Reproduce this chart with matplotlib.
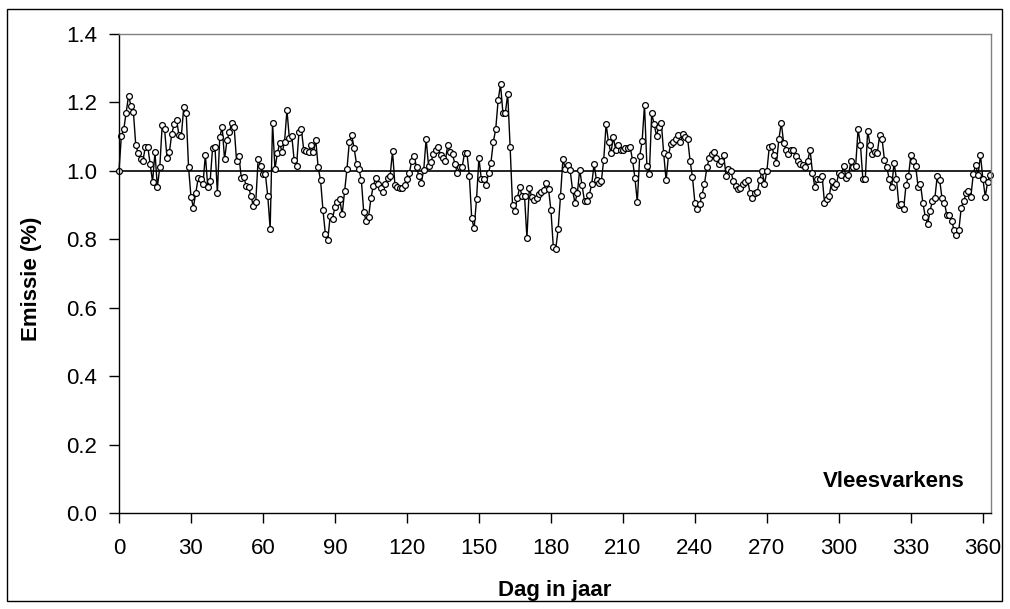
import matplotlib
matplotlib.use("Agg")
import matplotlib.pyplot as plt
import numpy as np
from matplotlib.patches import Rectangle

# relative emission per day
emissie = [
    1.000, 1.103, 1.122, 1.170, 1.220, 1.190, 1.173, 1.075, 1.052, 1.035,
    1.030, 1.071, 1.071, 1.019, 0.968, 1.054, 0.953, 1.010, 1.133, 1.122,
    1.039, 1.054, 1.109, 1.136, 1.150, 1.104, 1.103, 1.188, 1.170, 1.010,
    0.925, 0.893, 0.935, 0.978, 0.975, 0.961, 1.047, 0.953, 0.971, 1.066,
    1.071, 0.935, 1.099, 1.128, 1.034, 1.089, 1.113, 1.141, 1.128, 1.029,
    1.043, 0.978, 0.983, 0.956, 0.952, 0.927, 0.897, 0.909, 1.035, 1.015,
    0.991, 0.991, 0.927, 0.831, 1.141, 1.005, 1.052, 1.081, 1.054, 1.085,
    1.178, 1.095, 1.103, 1.032, 1.015, 1.113, 1.122, 1.061, 1.059, 1.056,
    1.075, 1.054, 1.091, 1.010, 0.973, 0.886, 0.816, 0.797, 0.868, 0.860,
    0.895, 0.910, 0.917, 0.873, 0.940, 1.005, 1.085, 1.104, 1.066, 1.020,
    1.005, 0.973, 0.879, 0.855, 0.865, 0.920, 0.957, 0.980, 0.961, 0.951,
    0.939, 0.961, 0.980, 0.986, 1.057, 0.958, 0.954, 0.949, 0.949, 0.958,
    0.977, 0.995, 1.029, 1.043, 1.011, 0.985, 0.966, 1.003, 1.093, 1.015,
    1.026, 1.048, 1.061, 1.070, 1.047, 1.039, 1.029, 1.076, 1.054, 1.048,
    1.020, 0.994, 1.011, 1.011, 1.052, 1.052, 0.986, 0.861, 0.832, 0.917,
    1.038, 0.975, 0.977, 0.958, 0.994, 1.024, 1.085, 1.122, 1.206, 1.253,
    1.169, 1.169, 1.225, 1.070, 0.901, 0.883, 0.921, 0.952, 0.927, 0.927,
    0.804, 0.951, 0.924, 0.916, 0.922, 0.932, 0.937, 0.945, 0.966, 0.947,
    0.886, 0.777, 0.771, 0.829, 0.927, 1.036, 1.005, 1.016, 1.003, 0.945,
    0.907, 0.934, 1.003, 0.958, 0.911, 0.911, 0.930, 0.961, 1.020, 0.972,
    0.966, 0.970, 1.032, 1.137, 1.084, 1.052, 1.098, 1.061, 1.077, 1.061,
    1.061, 1.068, 1.068, 1.071, 1.032, 0.980, 0.909, 1.043, 1.086, 1.193,
    1.015, 0.990, 1.168, 1.137, 1.103, 1.129, 1.141, 1.051, 0.972, 1.046,
    1.080, 1.084, 1.094, 1.105, 1.084, 1.108, 1.100, 1.093, 1.029, 0.981,
    0.907, 0.888, 0.902, 0.931, 0.963, 1.010, 1.037, 1.049, 1.054, 1.037,
    1.021, 1.029, 1.047, 0.984, 1.005, 1.000, 0.970, 0.957, 0.946, 0.950,
    0.962, 0.968, 0.972, 0.935, 0.920, 0.934, 0.939, 0.973, 1.000, 0.961,
    1.000, 1.070, 1.074, 1.046, 1.023, 1.093, 1.141, 1.081, 1.060, 1.048,
    1.061, 1.061, 1.043, 1.030, 1.020, 1.016, 1.012, 1.030, 1.061, 0.995,
    0.952, 0.977, 0.975, 0.986, 0.907, 0.918, 0.927, 0.970, 0.954, 0.962,
    0.995, 0.988, 1.015, 0.980, 0.988, 1.028, 1.011, 1.015, 1.122, 1.075,
    0.976, 0.976, 1.118, 1.075, 1.050, 1.056, 1.052, 1.105, 1.093, 1.032,
    1.010, 0.975, 0.952, 1.024, 0.976, 0.900, 0.904, 0.890, 0.960, 0.984,
    1.047, 1.028, 1.014, 0.954, 0.962, 0.907, 0.866, 0.845, 0.883, 0.912,
    0.920, 0.986, 0.973, 0.920, 0.907, 0.870, 0.870, 0.855, 0.827, 0.812,
    0.827, 0.893, 0.911, 0.934, 0.942, 0.925, 0.990, 1.018, 0.987, 1.047,
    0.977, 0.925, 0.968, 0.989,
]
dag = np.arange(len(emissie))

x_ticks = list(range(0, 361, 30))
y_ticks = [0.0, 0.2, 0.4, 0.6, 0.8, 1.0, 1.2, 1.4]
referentie = 1.0

plt.rcParams["font.family"] = ["Liberation Sans", "DejaVu Sans"]

fig = plt.figure(figsize=(10.10, 6.09), dpi=100)
ax = fig.add_axes([0.1178, 0.1576, 0.8634, 0.7865])

ax.axhline(referentie, color="black", lw=1.2, zorder=1)
ax.plot(dag, emissie, color="black", lw=1.0, marker="o", ms=4.2,
        mfc="white", mec="black", mew=0.9, zorder=2, clip_on=False)

ax.set_xlim(0, 363.4)
ax.set_ylim(0, 1.4)
ax.set_xticks(x_ticks)
ax.set_yticks(y_ticks)
ax.set_yticklabels([f"{v:.1f}" for v in y_ticks])
ax.tick_params(axis="both", direction="out", length=7, width=1,
               labelsize=16, colors="black")
ax.tick_params(axis="x", pad=11)
ax.tick_params(axis="y", pad=9)

for side in ("left", "bottom"):
    ax.spines[side].set_color("black")
    ax.spines[side].set_linewidth(1.0)
for side in ("top", "right"):
    ax.spines[side].set_color("#808080")
    ax.spines[side].set_linewidth(1.0)

ax.set_xlabel("Dag in jaar", fontsize=16, fontweight="bold")
ax.set_ylabel("Emissie (%)", fontsize=16, fontweight="bold")
ax.xaxis.set_label_coords(0.5, -0.14)
ax.yaxis.set_label_coords(-0.088, 0.49)

ax.text(0.970, 0.065, "Vleesvarkens", transform=ax.transAxes,
        ha="right", va="center", fontsize=16, fontweight="bold")

# chart area border
fig.patches.append(Rectangle((7 / 1010, 8 / 609), 995 / 1010, 592 / 609,
                             transform=fig.transFigure, fill=False,
                             edgecolor="black", lw=1.0))

fig.savefig("out.png", dpi=100)
